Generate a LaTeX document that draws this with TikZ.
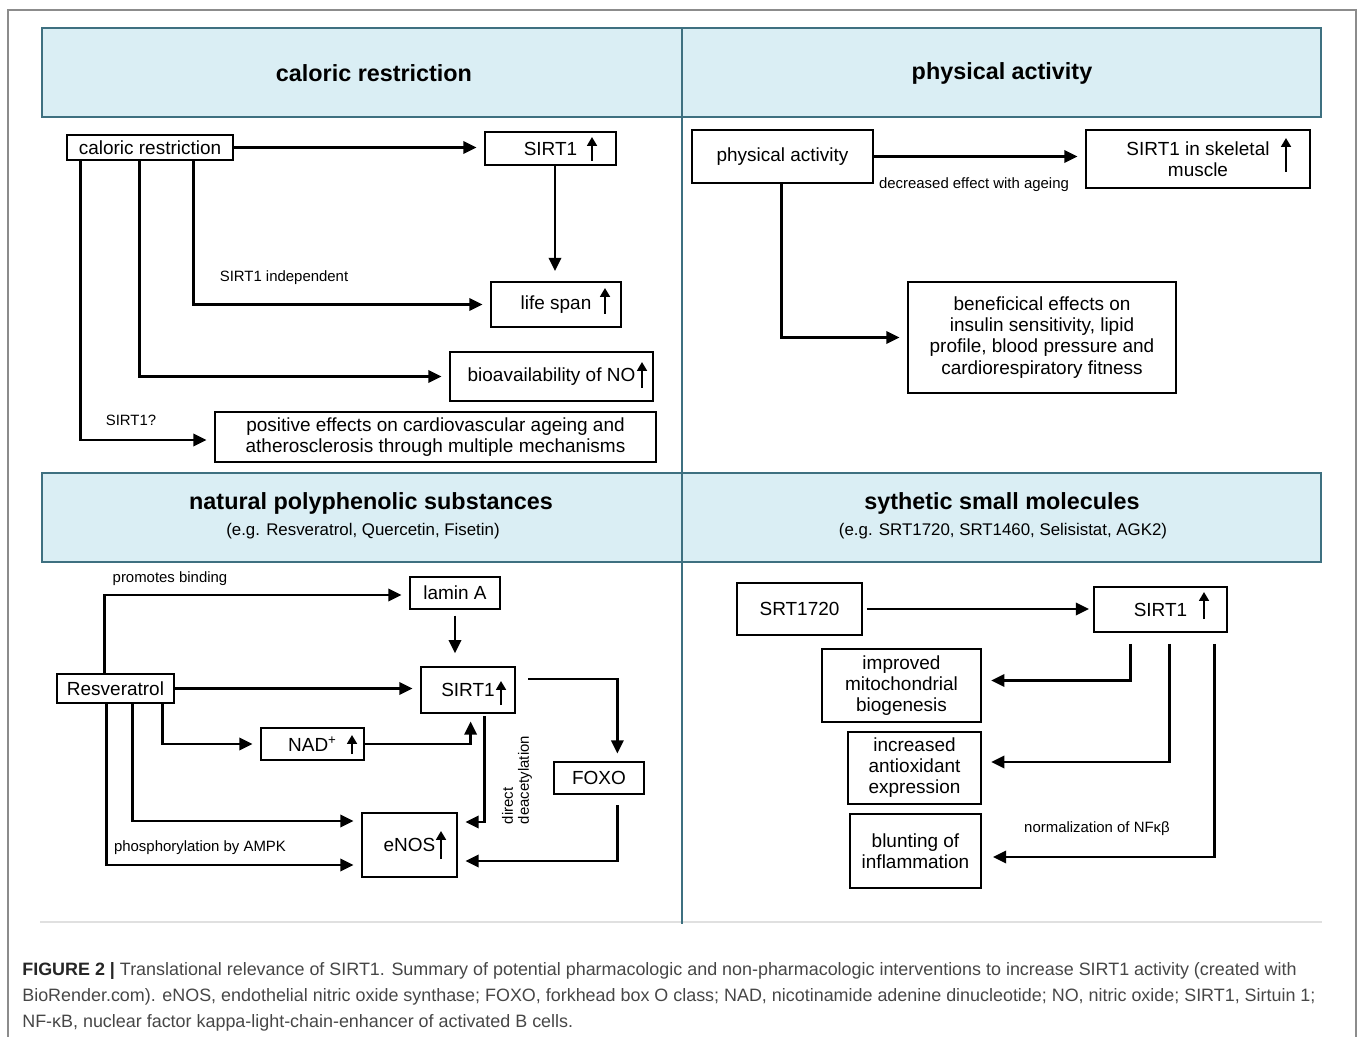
\documentclass[tikz,border=0pt]{standalone}
\usepackage{fontspec}
\setmainfont{Liberation Sans}
\usetikzlibrary{arrows.meta,calc}
\definecolor{hdfill}{RGB}{218,238,244}
\definecolor{hdline}{RGB}{62,112,128}
\definecolor{captxt}{RGB}{70,70,70}
\begin{document}
\begin{tikzpicture}[x=0.02cm,y=-0.02cm,
  box/.style={draw,line width=1.6pt,inner sep=0pt,align=center,font=\fontsize{10.8}{12}\selectfont},
  sz/.style 2 args={minimum width=#1*0.02cm,minimum height=#2*0.02cm},
  arr/.style={line width=1.4pt,-{Triangle[length=7.5pt,width=7pt]},shorten >=4pt},
  incr/.style={line width=1.4pt,-{Triangle[length=5pt,width=5.5pt]}},
  lbl/.style={font=\fontsize{8.5}{9}\selectfont},
  head/.style={font=\bfseries\fontsize{13.3}{16}\selectfont},
  sub/.style={font=\fontsize{9.6}{12}\selectfont}]
\useasboundingbox (0,0) rectangle (1357,1037);
\draw[gray!90,line width=0.8pt] (8,1037) -- (8,10) -- (1356,10) -- (1356,1037);
\draw[black!12,line width=0.8pt] (40,922) -- (1322,922);
\draw[hdline,fill=hdfill,line width=1.6pt] (42,28) rectangle (1321,117);
\draw[hdline,fill=hdfill,line width=1.6pt] (42,473) rectangle (1321,562);
\draw[hdline,line width=1.6pt] (682,28) -- (682,924);

\node[head] (hcr) at (374,73) {caloric restriction};
\node[head] (hpa) at (1002,73) {physical activity};
\node[head] (hnp) at (371,503) {natural polyphenolic substances};
\node[sub] (snp) at (363,531) {(e.g. Resveratrol, Quercetin, Fisetin)};
\node[head] (hsm) at (1002,503) {sythetic small molecules};
\node[sub] (ssm) at (1003,531) {(e.g. SRT1720, SRT1460, Selisistat, AGK2)};

\node[box,sz={166}{25}] (cr) at (150,147.5) {caloric restriction};
\node[box,sz={131}{33}] (s1a) at (550.5,148.5) {SIRT1};
\node[box,sz={130}{45}] (ls) at (556,304.5) {life span};
\node[box,sz={203}{49}] (no) at (551.5,376.5) {bioavailability of NO};
\node[box,sz={441}{50}] (pos) at (435.5,437) {positive effects on cardiovascular ageing and\\atherosclerosis through multiple mechanisms};
\draw[arr] (cr.east) -- (cr.east -| s1a.west);
\draw[arr,shorten >=5.5pt] (s1a.south -| 555,0) -- (ls.north -| 555,0);
\draw[arr] ($(cr.south west)+(128,0)$) |- (ls.west);
\draw[arr] ($(cr.south west)+(74,0)$) |- (no.west);
\draw[arr] ($(cr.south west)+(15,0)$) |- ($(pos.west)+(0,3)$);
\node[lbl] (l1) at (284,278) {SIRT1 independent};
\node[lbl] (l2) at (131,420) {SIRT1?};

\node[box,sz={181}{53}] (pa) at (782.5,156.5) {physical activity};
\node[box,sz={224}{58}] (sk) at (1198,159) {SIRT1 in skeletal\\muscle};
\node[box,sz={268}{111}] (ben) at (1042,337.5) {beneficical effects on\\insulin sensitivity, lipid\\profile, blood pressure and\\cardiorespiratory fitness};
\draw[arr] (pa.east) -- (pa.east -| sk.west);
\draw[arr] ($(pa.south west)+(91,0)$) |- (ben.west);
\node[lbl] (l3) at (974,185) {decreased effect with ageing};

\node[box,sz={90}{32}] (lam) at (455,593) {lamin A};
\node[box,sz={94}{46}] (s1n) at (468,690) {SIRT1};
\node[box,sz={117}{29}] (res) at (115.5,688.5) {Resveratrol};
\node[box,sz={103}{32}] (nad) at (312.5,744) {NAD\textsuperscript{+}};
\node[box,sz={90}{32}] (foxo) at (599,778) {FOXO};
\node[box,sz={95}{64}] (enos) at (409.5,845) {eNOS};
\draw[arr] ($(res.north west)+(49,0)$) |- ($(lam.west)+(0,2)$);
\draw[arr,shorten <=3pt,shorten >=7pt] (lam.south) -- (lam.south |- s1n.north);
\draw[arr] (res.east) -- (res.east -| s1n.west);
\draw[arr] ($(res.south west)+(107,0)$) |- (nad.west);
\draw[arr] (nad.east) -| ($(s1n.south west)+(51,0)$);
\draw[arr] ($(s1n.east)+(12,-11)$) -| ($(foxo.north east)+(-28,0)$);
\draw[arr] ($(foxo.south east)+(-28,10)$) |- ($(enos.east)+(0,16)$);
\draw[arr,shorten <=1pt] ($(s1n.south west)+(65,0)$) |- ($(enos.east)+(0,-23)$);
\draw[arr] ($(res.south west)+(77,0)$) |- ($(enos.west)+(0,-24)$);
\draw[arr] ($(res.south west)+(51,0)$) |- ($(enos.west)+(0,20)$);
\node[lbl] (l4) at (170,579) {promotes binding};
\node[lbl] (l5) at (200,848) {phosphorylation by AMPK};
\node[lbl,rotate=90,align=left] (l6) at (517,780) {direct\\deacetylation};

\node[box,sz={125}{52}] (srt) at (799.5,609) {SRT1720};
\node[box,sz={133}{45}] (s1s) at (1160.5,609.5) {SIRT1};
\node[box,sz={159}{73}] (mito) at (901.5,685.5) {improved\\mitochondrial\\biogenesis};
\node[box,sz={133}{72}] (anti) at (914.5,768) {increased\\antioxidant\\expression};
\node[box,sz={131}{74}] (infl) at (915.5,851) {blunting of\\inflammation};
\draw[arr,shorten <=2pt,shorten >=2pt] (srt.east) -- (srt.east -| s1s.west);
\draw[arr,shorten <=6pt,shorten >=5pt] ($(s1s.south west)+(38,0)$) |- ($(mito.east)+(0,-5)$);
\draw[arr,shorten <=6pt,shorten >=5pt] ($(s1s.south west)+(77,0)$) |- ($(anti.east)+(0,-6)$);
\draw[arr,shorten <=6pt,shorten >=6pt] ($(s1s.south west)+(122,0)$) |- ($(infl.east)+(0,6)$);
\node[lbl] (l7) at (1097,829) {normalization of NFκβ};

\foreach \x/\ya/\yb in {592/161/137, 605/314/288, 642/388/362, 1286/172/138,
  501/705/681, 352/754/735, 441/859/831, 1204/619/592}
  \draw[incr] (\x,\ya) -- (\x,\yb);

\node[anchor=west,align=left,inner sep=0pt,text=captxt,font=\fontsize{10.2}{14.7}\selectfont] (cap) at (22,997)
  {\textbf{\color{black!85}FIGURE 2 |} Translational relevance of SIRT1. Summary of potential pharmacologic and non-pharmacologic interventions to increase SIRT1 activity (created with\\
  BioRender.com). eNOS, endothelial nitric oxide synthase; FOXO, forkhead box O class; NAD, nicotinamide adenine dinucleotide; NO, nitric oxide; SIRT1, Sirtuin 1;\\
  NF-κB, nuclear factor kappa-light-chain-enhancer of activated B cells.};
\end{tikzpicture}
\end{document}
